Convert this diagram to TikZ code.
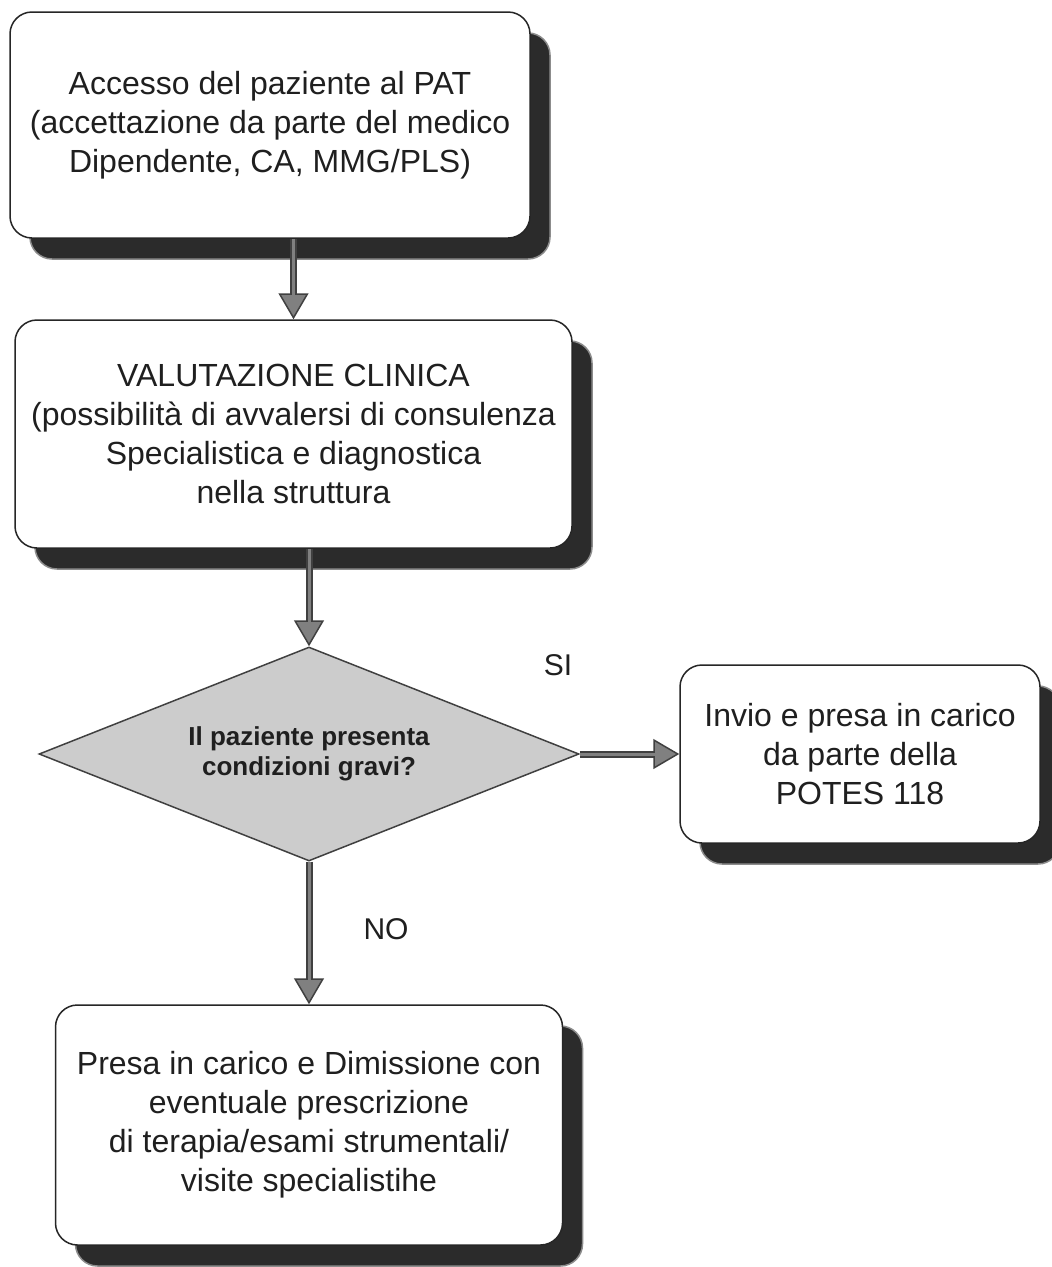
\documentclass[tikz,border=0pt]{standalone}
\usepackage{fontspec}
\setmainfont{Liberation Sans}
\usetikzlibrary{shapes.geometric,arrows.meta,shadows,calc}
\definecolor{shd}{gray}{0.17}
\definecolor{arrdk}{gray}{0.25}
\definecolor{arrgr}{gray}{0.50}
\definecolor{dmd}{gray}{0.80}
\definecolor{txt}{gray}{0.12}
\begin{document}
\begin{tikzpicture}[x=1pt,y=-1pt,
  box/.style={draw=black!85, line width=1.5pt, fill=white, rounded corners=22pt,
    align=center, text=txt, inner sep=0pt,
    font=\fontsize{32}{39}\selectfont,
    drop shadow={shadow xshift=20pt, shadow yshift=-21pt, fill=shd, opacity=1, draw=black!45, line width=1.5pt}},
  dec/.style={diamond, aspect=2.52, draw=black!75, line width=1.5pt, fill=dmd, inner sep=0pt,
    align=center, text=txt, font=\bfseries\fontsize{26}{30}\selectfont},
  conn/.style={draw=arrdk, line width=7pt,
    -{Triangle[width=30pt,length=26pt,line width=1.5pt,fill=arrgr]},
    postaction={draw=arrgr, line width=3pt, -, shorten >=24pt}},
  lbl/.style={text=txt, font=\fontsize{30}{36}\selectfont, inner sep=0pt}]
\useasboundingbox (0,0) rectangle (1052,1267);
\fill[white] (0,0) rectangle (1052,1267);

\node[box, minimum width=520pt, minimum height=226pt] (b1) at (270,125)
  {Accesso del paziente al PAT\\(accettazione da parte del medico\\Dipendente, CA, MMG/PLS)};
\node[box, minimum width=557pt, minimum height=228pt] (b2) at (293.5,434)
  {VALUTAZIONE CLINICA\\(possibilità di avvalersi di consulenza\\Specialistica e diagnostica\\nella struttura};
\node[dec, minimum width=540pt, minimum height=214pt] (d) at (309,754)
  {Il paziente presenta\\condizioni gravi?};
\node[box, minimum width=360pt, minimum height=178pt] (b3) at (860,754)
  {Invio e presa in carico\\da parte della\\POTES 118};
\node[box, minimum width=507pt, minimum height=240pt] (b4) at (309,1125)
  {Presa in carico e Dimissione con\\eventuale prescrizione\\di terapia/esami strumentali/\\visite specialistihe};

\node[lbl] (si) at (558,665) {SI};
\node[lbl] (no) at (386,929) {NO};

\draw[conn] (b1.south -| b2.north) -- (b2.north);
\draw[conn] (b2.south -| d.north) -- (d.north);
\draw[conn] (d.east) -- (b3.west);
\draw[conn] (d.south) -- (b4.north);
\end{tikzpicture}
\end{document}
